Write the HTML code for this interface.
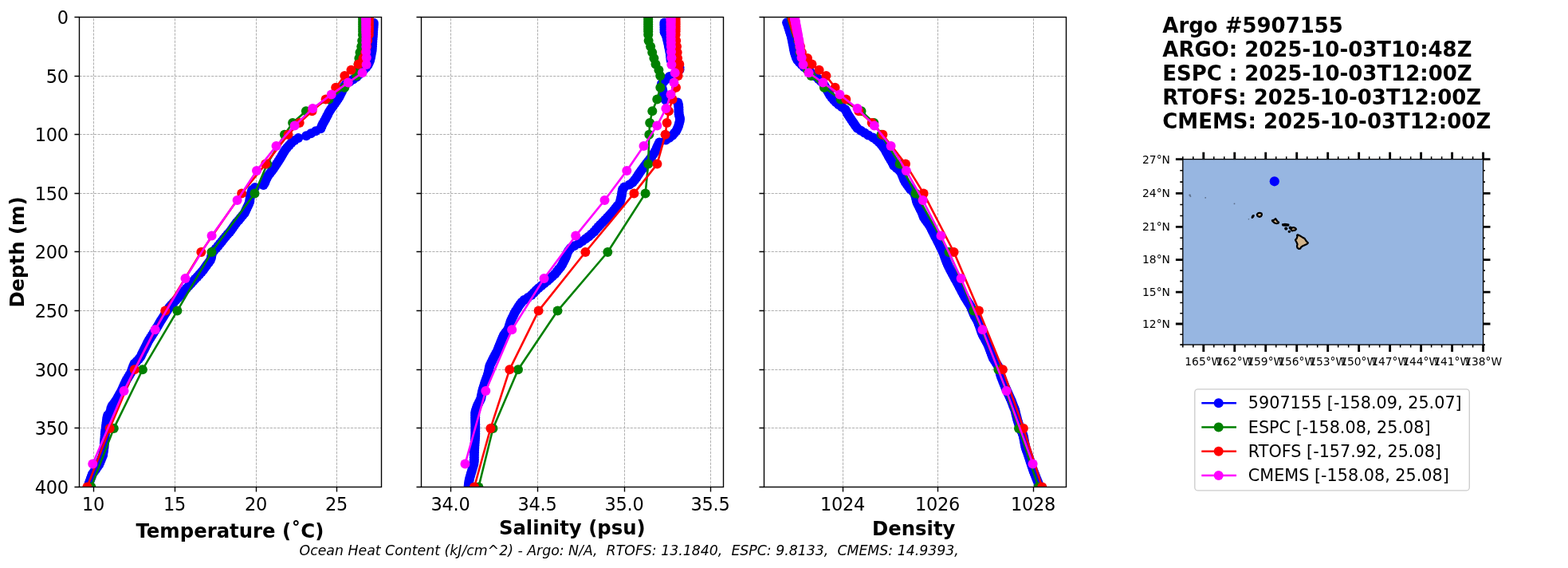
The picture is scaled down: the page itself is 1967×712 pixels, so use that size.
<!DOCTYPE html>
<html lang="en"><head><meta charset="utf-8"><title>Argo #5907155</title>
<style>html,body{margin:0;padding:0;background:#fff;}body{width:1967px;height:712px;overflow:hidden;}svg{display:block;}text{font-family:"DejaVu Sans","Liberation Sans",sans-serif;fill:#000;}.tk{font-size:22.48px;letter-spacing:-0.3px;}.lb{font-size:24.35px;font-weight:bold;}.tt{font-size:25.98px;font-weight:bold;}.mp{font-size:13.83px;}.lg{font-size:20.75px;}.ft{font-size:17.33px;font-style:italic;}.grid{stroke:#b0b0b0;stroke-width:1;stroke-dasharray:3.2 1.4;fill:none;}.sp{stroke:#000;stroke-width:1.38;fill:none;stroke-linecap:square;}.tick{stroke:#000;stroke-width:1.38;fill:none;}</style></head><body>
<svg width="1967" height="712" viewBox="0 0 1967 712">
<rect x="0" y="0" width="1967" height="712" fill="#fff"/>
<clipPath id="c0"><rect x="99.50" y="21.50" width="379.00" height="589.00"/></clipPath>
<path class="grid" d="M117.50 610.50V21.50M219.50 610.50V21.50M321.50 610.50V21.50M422.50 610.50V21.50M99.50 21.50H478.50M99.50 95.50H478.50M99.50 168.50H478.50M99.50 242.50H478.50M99.50 315.50H478.50M99.50 389.50H478.50M99.50 463.50H478.50M99.50 536.50H478.50M99.50 610.50H478.50"/>
<g clip-path="url(#c0)">
<polyline points="468.8,28.8 468.7,31.7 468.5,34.7 468.3,37.6 468.1,40.6 467.9,43.5 467.7,46.5 467.5,49.4 467.3,52.4 467.1,55.3 466.9,58.2 466.7,61.2 466.5,64.1 465.9,67.1 465.4,70.0 464.8,73.0 464.1,75.9 462.8,78.9 461.5,81.8 459.2,84.8 456.2,87.7 453.3,90.6 450.3,93.6 447.4,96.5 443.1,99.5 438.5,102.4 434.0,105.4 431.7,108.3 430.4,111.3 429.1,114.2 427.8,117.1 426.4,120.1 424.7,123.0 422.7,126.0 420.6,128.9 418.5,131.9 416.5,134.8 414.5,137.8 412.6,140.7 411.2,143.7 409.7,146.6 408.2,149.5 406.5,152.5 404.8,155.4 403.5,158.4 402.3,161.3 396.1,164.3 390.1,167.2 384.2,170.2 374.2,173.1 369.5,176.0 365.6,179.0 362.9,181.9 360.2,184.9 358.0,187.8 356.1,190.8 354.3,193.7 352.6,196.7 350.9,199.6 349.0,202.6 347.0,205.5 345.0,208.4 343.0,211.4 340.9,214.3 338.6,217.3 336.3,220.2 334.6,223.2 333.4,226.1 332.3,229.1 330.5,232.0 319.9,234.9 316.3,237.9 315.4,240.8 314.6,243.8 313.8,246.7 313.5,249.7 313.2,252.6 312.2,255.6 310.8,258.5 309.4,261.5 308.0,264.4 306.6,267.3 304.1,270.3 301.6,273.2 299.2,276.2 296.7,279.1 294.5,282.1 292.4,285.0 290.3,288.0 288.1,290.9 285.5,293.8 283.0,296.8 280.5,299.7 278.2,302.7 275.9,305.6 273.5,308.6 270.9,311.5 268.2,314.5 265.9,317.4 265.4,320.4 264.9,323.3 263.8,326.2 261.7,329.2 259.6,332.1 257.5,335.1 255.4,338.0 252.9,341.0 250.2,343.9 247.5,346.9 244.8,349.8 242.1,352.7 239.4,355.7 236.7,358.6 234.0,361.6 231.3,364.5 228.6,367.5 225.9,370.4 223.2,373.4 220.5,376.3 217.7,379.3 214.9,382.2 212.5,385.1 210.6,388.1 208.7,391.0 206.8,394.0 205.0,396.9 203.1,399.9 201.3,402.8 199.6,405.8 197.9,408.7 196.2,411.6 194.4,414.6 192.5,417.5 190.6,420.5 188.7,423.4 186.8,426.4 185.2,429.3 183.8,432.3 182.3,435.2 180.8,438.2 179.4,441.1 177.9,444.0 176.5,447.0 174.2,449.9 171.4,452.9 168.6,455.8 167.3,458.8 166.2,461.7 165.1,464.7 164.0,467.6 162.2,470.5 160.4,473.5 158.6,476.4 157.2,479.4 155.8,482.3 154.5,485.3 153.2,488.2 151.7,491.2 150.1,494.1 148.4,497.1 146.8,500.0 144.8,502.9 142.7,505.9 140.6,508.8 139.4,511.8 138.9,514.7 137.5,517.7 135.2,520.6 134.4,523.6 134.0,526.5 133.6,529.4 133.2,532.4 132.9,535.3 132.5,538.3 132.1,541.2 131.8,544.2 131.6,547.1 131.3,550.1 131.1,553.0 130.9,556.0 130.7,558.9 130.4,561.8 130.0,564.8 129.5,567.7 129.1,570.7 127.9,573.6 126.7,576.6 125.5,579.5 124.2,582.5 122.1,585.4 120.1,588.4 118.0,591.3 115.9,594.2 114.8,597.2 113.8,600.1 112.7,603.1 111.6,606.0 110.9,609.0" fill="none" stroke="#0000ff" stroke-width="2.60" stroke-linejoin="round" stroke-linecap="butt"/><g fill="#0000ff"><circle cx="468.8" cy="28.8" r="6.0"/><circle cx="468.7" cy="31.7" r="6.0"/><circle cx="468.5" cy="34.7" r="6.0"/><circle cx="468.3" cy="37.6" r="6.0"/><circle cx="468.1" cy="40.6" r="6.0"/><circle cx="467.9" cy="43.5" r="6.0"/><circle cx="467.7" cy="46.5" r="6.0"/><circle cx="467.5" cy="49.4" r="6.0"/><circle cx="467.3" cy="52.4" r="6.0"/><circle cx="467.1" cy="55.3" r="6.0"/><circle cx="466.9" cy="58.2" r="6.0"/><circle cx="466.7" cy="61.2" r="6.0"/><circle cx="466.5" cy="64.1" r="6.0"/><circle cx="465.9" cy="67.1" r="6.0"/><circle cx="465.4" cy="70.0" r="6.0"/><circle cx="464.8" cy="73.0" r="6.0"/><circle cx="464.1" cy="75.9" r="6.0"/><circle cx="462.8" cy="78.9" r="6.0"/><circle cx="461.5" cy="81.8" r="6.0"/><circle cx="459.2" cy="84.8" r="6.0"/><circle cx="456.2" cy="87.7" r="6.0"/><circle cx="453.3" cy="90.6" r="6.0"/><circle cx="450.3" cy="93.6" r="6.0"/><circle cx="447.4" cy="96.5" r="6.0"/><circle cx="443.1" cy="99.5" r="6.0"/><circle cx="438.5" cy="102.4" r="6.0"/><circle cx="434.0" cy="105.4" r="6.0"/><circle cx="431.7" cy="108.3" r="6.0"/><circle cx="430.4" cy="111.3" r="6.0"/><circle cx="429.1" cy="114.2" r="6.0"/><circle cx="427.8" cy="117.1" r="6.0"/><circle cx="426.4" cy="120.1" r="6.0"/><circle cx="424.7" cy="123.0" r="6.0"/><circle cx="422.7" cy="126.0" r="6.0"/><circle cx="420.6" cy="128.9" r="6.0"/><circle cx="418.5" cy="131.9" r="6.0"/><circle cx="416.5" cy="134.8" r="6.0"/><circle cx="414.5" cy="137.8" r="6.0"/><circle cx="412.6" cy="140.7" r="6.0"/><circle cx="411.2" cy="143.7" r="6.0"/><circle cx="409.7" cy="146.6" r="6.0"/><circle cx="408.2" cy="149.5" r="6.0"/><circle cx="406.5" cy="152.5" r="6.0"/><circle cx="404.8" cy="155.4" r="6.0"/><circle cx="403.5" cy="158.4" r="6.0"/><circle cx="402.3" cy="161.3" r="6.0"/><circle cx="396.1" cy="164.3" r="6.0"/><circle cx="390.1" cy="167.2" r="6.0"/><circle cx="384.2" cy="170.2" r="6.0"/><circle cx="374.2" cy="173.1" r="6.0"/><circle cx="369.5" cy="176.0" r="6.0"/><circle cx="365.6" cy="179.0" r="6.0"/><circle cx="362.9" cy="181.9" r="6.0"/><circle cx="360.2" cy="184.9" r="6.0"/><circle cx="358.0" cy="187.8" r="6.0"/><circle cx="356.1" cy="190.8" r="6.0"/><circle cx="354.3" cy="193.7" r="6.0"/><circle cx="352.6" cy="196.7" r="6.0"/><circle cx="350.9" cy="199.6" r="6.0"/><circle cx="349.0" cy="202.6" r="6.0"/><circle cx="347.0" cy="205.5" r="6.0"/><circle cx="345.0" cy="208.4" r="6.0"/><circle cx="343.0" cy="211.4" r="6.0"/><circle cx="340.9" cy="214.3" r="6.0"/><circle cx="338.6" cy="217.3" r="6.0"/><circle cx="336.3" cy="220.2" r="6.0"/><circle cx="334.6" cy="223.2" r="6.0"/><circle cx="333.4" cy="226.1" r="6.0"/><circle cx="332.3" cy="229.1" r="6.0"/><circle cx="330.5" cy="232.0" r="6.0"/><circle cx="319.9" cy="234.9" r="6.0"/><circle cx="316.3" cy="237.9" r="6.0"/><circle cx="315.4" cy="240.8" r="6.0"/><circle cx="314.6" cy="243.8" r="6.0"/><circle cx="313.8" cy="246.7" r="6.0"/><circle cx="313.5" cy="249.7" r="6.0"/><circle cx="313.2" cy="252.6" r="6.0"/><circle cx="312.2" cy="255.6" r="6.0"/><circle cx="310.8" cy="258.5" r="6.0"/><circle cx="309.4" cy="261.5" r="6.0"/><circle cx="308.0" cy="264.4" r="6.0"/><circle cx="306.6" cy="267.3" r="6.0"/><circle cx="304.1" cy="270.3" r="6.0"/><circle cx="301.6" cy="273.2" r="6.0"/><circle cx="299.2" cy="276.2" r="6.0"/><circle cx="296.7" cy="279.1" r="6.0"/><circle cx="294.5" cy="282.1" r="6.0"/><circle cx="292.4" cy="285.0" r="6.0"/><circle cx="290.3" cy="288.0" r="6.0"/><circle cx="288.1" cy="290.9" r="6.0"/><circle cx="285.5" cy="293.8" r="6.0"/><circle cx="283.0" cy="296.8" r="6.0"/><circle cx="280.5" cy="299.7" r="6.0"/><circle cx="278.2" cy="302.7" r="6.0"/><circle cx="275.9" cy="305.6" r="6.0"/><circle cx="273.5" cy="308.6" r="6.0"/><circle cx="270.9" cy="311.5" r="6.0"/><circle cx="268.2" cy="314.5" r="6.0"/><circle cx="265.9" cy="317.4" r="6.0"/><circle cx="265.4" cy="320.4" r="6.0"/><circle cx="264.9" cy="323.3" r="6.0"/><circle cx="263.8" cy="326.2" r="6.0"/><circle cx="261.7" cy="329.2" r="6.0"/><circle cx="259.6" cy="332.1" r="6.0"/><circle cx="257.5" cy="335.1" r="6.0"/><circle cx="255.4" cy="338.0" r="6.0"/><circle cx="252.9" cy="341.0" r="6.0"/><circle cx="250.2" cy="343.9" r="6.0"/><circle cx="247.5" cy="346.9" r="6.0"/><circle cx="244.8" cy="349.8" r="6.0"/><circle cx="242.1" cy="352.7" r="6.0"/><circle cx="239.4" cy="355.7" r="6.0"/><circle cx="236.7" cy="358.6" r="6.0"/><circle cx="234.0" cy="361.6" r="6.0"/><circle cx="231.3" cy="364.5" r="6.0"/><circle cx="228.6" cy="367.5" r="6.0"/><circle cx="225.9" cy="370.4" r="6.0"/><circle cx="223.2" cy="373.4" r="6.0"/><circle cx="220.5" cy="376.3" r="6.0"/><circle cx="217.7" cy="379.3" r="6.0"/><circle cx="214.9" cy="382.2" r="6.0"/><circle cx="212.5" cy="385.1" r="6.0"/><circle cx="210.6" cy="388.1" r="6.0"/><circle cx="208.7" cy="391.0" r="6.0"/><circle cx="206.8" cy="394.0" r="6.0"/><circle cx="205.0" cy="396.9" r="6.0"/><circle cx="203.1" cy="399.9" r="6.0"/><circle cx="201.3" cy="402.8" r="6.0"/><circle cx="199.6" cy="405.8" r="6.0"/><circle cx="197.9" cy="408.7" r="6.0"/><circle cx="196.2" cy="411.6" r="6.0"/><circle cx="194.4" cy="414.6" r="6.0"/><circle cx="192.5" cy="417.5" r="6.0"/><circle cx="190.6" cy="420.5" r="6.0"/><circle cx="188.7" cy="423.4" r="6.0"/><circle cx="186.8" cy="426.4" r="6.0"/><circle cx="185.2" cy="429.3" r="6.0"/><circle cx="183.8" cy="432.3" r="6.0"/><circle cx="182.3" cy="435.2" r="6.0"/><circle cx="180.8" cy="438.2" r="6.0"/><circle cx="179.4" cy="441.1" r="6.0"/><circle cx="177.9" cy="444.0" r="6.0"/><circle cx="176.5" cy="447.0" r="6.0"/><circle cx="174.2" cy="449.9" r="6.0"/><circle cx="171.4" cy="452.9" r="6.0"/><circle cx="168.6" cy="455.8" r="6.0"/><circle cx="167.3" cy="458.8" r="6.0"/><circle cx="166.2" cy="461.7" r="6.0"/><circle cx="165.1" cy="464.7" r="6.0"/><circle cx="164.0" cy="467.6" r="6.0"/><circle cx="162.2" cy="470.5" r="6.0"/><circle cx="160.4" cy="473.5" r="6.0"/><circle cx="158.6" cy="476.4" r="6.0"/><circle cx="157.2" cy="479.4" r="6.0"/><circle cx="155.8" cy="482.3" r="6.0"/><circle cx="154.5" cy="485.3" r="6.0"/><circle cx="153.2" cy="488.2" r="6.0"/><circle cx="151.7" cy="491.2" r="6.0"/><circle cx="150.1" cy="494.1" r="6.0"/><circle cx="148.4" cy="497.1" r="6.0"/><circle cx="146.8" cy="500.0" r="6.0"/><circle cx="144.8" cy="502.9" r="6.0"/><circle cx="142.7" cy="505.9" r="6.0"/><circle cx="140.6" cy="508.8" r="6.0"/><circle cx="139.4" cy="511.8" r="6.0"/><circle cx="138.9" cy="514.7" r="6.0"/><circle cx="137.5" cy="517.7" r="6.0"/><circle cx="135.2" cy="520.6" r="6.0"/><circle cx="134.4" cy="523.6" r="6.0"/><circle cx="134.0" cy="526.5" r="6.0"/><circle cx="133.6" cy="529.4" r="6.0"/><circle cx="133.2" cy="532.4" r="6.0"/><circle cx="132.9" cy="535.3" r="6.0"/><circle cx="132.5" cy="538.3" r="6.0"/><circle cx="132.1" cy="541.2" r="6.0"/><circle cx="131.8" cy="544.2" r="6.0"/><circle cx="131.6" cy="547.1" r="6.0"/><circle cx="131.3" cy="550.1" r="6.0"/><circle cx="131.1" cy="553.0" r="6.0"/><circle cx="130.9" cy="556.0" r="6.0"/><circle cx="130.7" cy="558.9" r="6.0"/><circle cx="130.4" cy="561.8" r="6.0"/><circle cx="130.0" cy="564.8" r="6.0"/><circle cx="129.5" cy="567.7" r="6.0"/><circle cx="129.1" cy="570.7" r="6.0"/><circle cx="127.9" cy="573.6" r="6.0"/><circle cx="126.7" cy="576.6" r="6.0"/><circle cx="125.5" cy="579.5" r="6.0"/><circle cx="124.2" cy="582.5" r="6.0"/><circle cx="122.1" cy="585.4" r="6.0"/><circle cx="120.1" cy="588.4" r="6.0"/><circle cx="118.0" cy="591.3" r="6.0"/><circle cx="115.9" cy="594.2" r="6.0"/><circle cx="114.8" cy="597.2" r="6.0"/><circle cx="113.8" cy="600.1" r="6.0"/><circle cx="112.7" cy="603.1" r="6.0"/><circle cx="111.6" cy="606.0" r="6.0"/><circle cx="110.9" cy="609.0" r="6.0"/></g>
<polyline points="455.2,21.5 455.2,24.4 455.2,27.4 455.2,30.3 455.2,33.3 455.2,36.2 455.2,39.2 455.0,43.6 454.2,51.0 453.3,58.3 451.5,65.7 450.4,73.0 449.6,80.4 448.6,87.8 447.3,95.1 432.3,109.8 412.5,124.6 383.9,139.3 367.1,154.0 356.9,168.8 335.2,205.6 319.5,242.4 265.5,316.0 222.4,389.6 178.9,463.2 142.8,536.9 114.4,610.5" fill="none" stroke="#008000" stroke-width="2.60" stroke-linejoin="round" stroke-linecap="butt"/><g fill="#008000"><circle cx="455.2" cy="21.5" r="6.0"/><circle cx="455.2" cy="24.4" r="6.0"/><circle cx="455.2" cy="27.4" r="6.0"/><circle cx="455.2" cy="30.3" r="6.0"/><circle cx="455.2" cy="33.3" r="6.0"/><circle cx="455.2" cy="36.2" r="6.0"/><circle cx="455.2" cy="39.2" r="6.0"/><circle cx="455.0" cy="43.6" r="6.0"/><circle cx="454.2" cy="51.0" r="6.0"/><circle cx="453.3" cy="58.3" r="6.0"/><circle cx="451.5" cy="65.7" r="6.0"/><circle cx="450.4" cy="73.0" r="6.0"/><circle cx="449.6" cy="80.4" r="6.0"/><circle cx="448.6" cy="87.8" r="6.0"/><circle cx="447.3" cy="95.1" r="6.0"/><circle cx="432.3" cy="109.8" r="6.0"/><circle cx="412.5" cy="124.6" r="6.0"/><circle cx="383.9" cy="139.3" r="6.0"/><circle cx="367.1" cy="154.0" r="6.0"/><circle cx="356.9" cy="168.8" r="6.0"/><circle cx="335.2" cy="205.6" r="6.0"/><circle cx="319.5" cy="242.4" r="6.0"/><circle cx="265.5" cy="316.0" r="6.0"/><circle cx="222.4" cy="389.6" r="6.0"/><circle cx="178.9" cy="463.2" r="6.0"/><circle cx="142.8" cy="536.9" r="6.0"/><circle cx="114.4" cy="610.5" r="6.0"/></g>
<polyline points="462.8,21.5 462.8,24.4 462.8,27.4 462.8,30.3 462.8,33.3 462.8,36.2 462.8,39.2 462.8,43.6 461.2,51.0 460.0,58.3 458.3,65.7 455.5,73.0 449.6,80.4 440.5,87.8 432.3,95.1 421.2,109.8 408.6,124.6 391.5,139.3 375.7,154.0 361.5,168.8 333.2,205.6 303.2,242.4 252.3,316.0 207.3,389.6 168.7,463.2 137.7,536.9 109.4,610.5" fill="none" stroke="#ff0000" stroke-width="2.60" stroke-linejoin="round" stroke-linecap="butt"/><g fill="#ff0000"><circle cx="462.8" cy="21.5" r="6.0"/><circle cx="462.8" cy="24.4" r="6.0"/><circle cx="462.8" cy="27.4" r="6.0"/><circle cx="462.8" cy="30.3" r="6.0"/><circle cx="462.8" cy="33.3" r="6.0"/><circle cx="462.8" cy="36.2" r="6.0"/><circle cx="462.8" cy="39.2" r="6.0"/><circle cx="462.8" cy="43.6" r="6.0"/><circle cx="461.2" cy="51.0" r="6.0"/><circle cx="460.0" cy="58.3" r="6.0"/><circle cx="458.3" cy="65.7" r="6.0"/><circle cx="455.5" cy="73.0" r="6.0"/><circle cx="449.6" cy="80.4" r="6.0"/><circle cx="440.5" cy="87.8" r="6.0"/><circle cx="432.3" cy="95.1" r="6.0"/><circle cx="421.2" cy="109.8" r="6.0"/><circle cx="408.6" cy="124.6" r="6.0"/><circle cx="391.5" cy="139.3" r="6.0"/><circle cx="375.7" cy="154.0" r="6.0"/><circle cx="361.5" cy="168.8" r="6.0"/><circle cx="333.2" cy="205.6" r="6.0"/><circle cx="303.2" cy="242.4" r="6.0"/><circle cx="252.3" cy="316.0" r="6.0"/><circle cx="207.3" cy="389.6" r="6.0"/><circle cx="168.7" cy="463.2" r="6.0"/><circle cx="137.7" cy="536.9" r="6.0"/><circle cx="109.4" cy="610.5" r="6.0"/></g>
<polyline points="459.2,22.2 459.3,23.8 459.2,25.4 459.4,27.1 459.3,29.0 459.2,31.0 459.4,33.2 459.3,35.6 459.2,38.3 459.3,41.3 459.4,44.8 459.3,48.7 459.2,53.3 459.3,58.6 459.3,64.9 459.8,72.2 459.6,80.9 454.5,91.3 436.7,103.6 415.7,118.4 392.2,136.1 369.6,157.4 346.5,183.1 322.0,213.9 297.6,251.0 265.6,295.6 232.5,349.1 194.6,413.2 155.5,489.9 116.3,581.4" fill="none" stroke="#ff00ff" stroke-width="2.60" stroke-linejoin="round" stroke-linecap="butt"/><g fill="#ff00ff"><circle cx="459.2" cy="22.2" r="6.0"/><circle cx="459.3" cy="23.8" r="6.0"/><circle cx="459.2" cy="25.4" r="6.0"/><circle cx="459.4" cy="27.1" r="6.0"/><circle cx="459.3" cy="29.0" r="6.0"/><circle cx="459.2" cy="31.0" r="6.0"/><circle cx="459.4" cy="33.2" r="6.0"/><circle cx="459.3" cy="35.6" r="6.0"/><circle cx="459.2" cy="38.3" r="6.0"/><circle cx="459.3" cy="41.3" r="6.0"/><circle cx="459.4" cy="44.8" r="6.0"/><circle cx="459.3" cy="48.7" r="6.0"/><circle cx="459.2" cy="53.3" r="6.0"/><circle cx="459.3" cy="58.6" r="6.0"/><circle cx="459.3" cy="64.9" r="6.0"/><circle cx="459.8" cy="72.2" r="6.0"/><circle cx="459.6" cy="80.9" r="6.0"/><circle cx="454.5" cy="91.3" r="6.0"/><circle cx="436.7" cy="103.6" r="6.0"/><circle cx="415.7" cy="118.4" r="6.0"/><circle cx="392.2" cy="136.1" r="6.0"/><circle cx="369.6" cy="157.4" r="6.0"/><circle cx="346.5" cy="183.1" r="6.0"/><circle cx="322.0" cy="213.9" r="6.0"/><circle cx="297.6" cy="251.0" r="6.0"/><circle cx="265.6" cy="295.6" r="6.0"/><circle cx="232.5" cy="349.1" r="6.0"/><circle cx="194.6" cy="413.2" r="6.0"/><circle cx="155.5" cy="489.9" r="6.0"/><circle cx="116.3" cy="581.4" r="6.0"/></g>
</g>
<path class="tick" d="M117.50 610.50v6.05M219.50 610.50v6.05M321.50 610.50v6.05M422.50 610.50v6.05M99.50 21.50h-6.05M99.50 95.50h-6.05M99.50 168.50h-6.05M99.50 242.50h-6.05M99.50 315.50h-6.05M99.50 389.50h-6.05M99.50 463.50h-6.05M99.50 536.50h-6.05M99.50 610.50h-6.05"/>
<rect class="sp" x="99.50" y="21.50" width="379.00" height="589.00"/>
<text class="tk" x="117.00" y="639.8" text-anchor="middle">10</text>
<text class="tk" x="219.00" y="639.8" text-anchor="middle">15</text>
<text class="tk" x="321.00" y="639.8" text-anchor="middle">20</text>
<text class="tk" x="422.00" y="639.8" text-anchor="middle">25</text>
<text class="tk" x="85.85" y="30.40" text-anchor="end">0</text>
<text class="tk" x="85.85" y="104.40" text-anchor="end">50</text>
<text class="tk" x="85.85" y="177.40" text-anchor="end">100</text>
<text class="tk" x="85.85" y="251.40" text-anchor="end">150</text>
<text class="tk" x="85.85" y="324.40" text-anchor="end">200</text>
<text class="tk" x="85.85" y="398.40" text-anchor="end">250</text>
<text class="tk" x="85.85" y="472.40" text-anchor="end">300</text>
<text class="tk" x="85.85" y="545.40" text-anchor="end">350</text>
<text class="tk" x="85.85" y="619.40" text-anchor="end">400</text>
<text class="lb" x="288.40" y="673.70" text-anchor="middle">Temperature (˚C)</text>
<clipPath id="c1"><rect x="528.50" y="21.50" width="379.00" height="589.00"/></clipPath>
<path class="grid" d="M565.50 610.50V21.50M674.50 610.50V21.50M783.50 610.50V21.50M891.50 610.50V21.50M528.50 21.50H907.50M528.50 95.50H907.50M528.50 168.50H907.50M528.50 242.50H907.50M528.50 315.50H907.50M528.50 389.50H907.50M528.50 463.50H907.50M528.50 536.50H907.50M528.50 610.50H907.50"/>
<g clip-path="url(#c1)">
<polyline points="833.4,28.4 833.4,31.3 833.5,34.3 833.5,37.2 833.6,40.2 835.0,43.1 836.2,46.1 836.9,49.0 837.6,52.0 838.3,54.9 838.9,57.9 839.5,60.8 840.1,63.7 840.7,66.7 841.0,69.6 841.3,72.6 841.6,75.5 844.5,78.5 848.6,81.4 852.5,84.4 852.5,87.3 850.5,90.2 845.6,93.2 839.8,96.1 836.3,99.1 833.0,102.0 830.0,105.0 830.1,107.9 830.7,110.9 831.4,113.8 832.0,116.7 832.3,119.7 832.5,122.6 835.0,125.6 850.3,128.5 851.1,131.5 851.4,134.4 851.5,137.4 851.5,140.3 851.8,143.3 852.5,146.2 853.1,149.1 852.7,152.1 851.9,155.0 851.1,158.0 849.8,160.9 848.4,163.9 846.1,166.8 843.6,169.8 839.7,172.7 835.3,175.6 827.2,178.6 825.7,181.5 824.3,184.5 823.1,187.4 821.4,190.4 819.5,193.3 817.5,196.3 815.4,199.2 813.1,202.2 810.9,205.1 808.6,208.0 806.4,211.0 804.2,213.9 802.1,216.9 800.3,219.8 798.4,222.8 796.1,225.7 793.6,228.7 789.6,231.6 783.2,234.5 781.0,237.5 780.4,240.4 780.0,243.4 779.5,246.3 778.8,249.3 778.1,252.2 777.0,255.2 774.5,258.1 772.1,261.1 769.7,264.0 767.1,266.9 764.4,269.9 761.8,272.8 758.9,275.8 756.0,278.7 753.0,281.7 750.4,284.6 747.8,287.6 745.3,290.5 741.9,293.4 738.5,296.4 734.7,299.3 730.5,302.3 726.1,305.2 720.3,308.2 715.7,311.1 713.4,314.1 711.6,317.0 710.8,320.0 709.6,322.9 708.2,325.8 706.7,328.8 705.2,331.7 703.3,334.7 700.9,337.6 698.6,340.6 696.2,343.5 692.9,346.5 689.6,349.4 686.4,352.3 682.7,355.3 679.1,358.2 675.5,361.2 672.5,364.1 669.6,367.1 666.6,370.0 662.3,373.0 657.4,375.9 654.3,378.9 652.2,381.8 650.2,384.7 648.4,387.7 646.6,390.6 645.0,393.6 643.6,396.5 642.1,399.5 640.7,402.4 639.8,405.4 638.9,408.3 638.0,411.2 636.3,414.2 634.1,417.1 632.0,420.1 630.6,423.0 629.4,426.0 628.2,428.9 627.0,431.9 625.8,434.8 624.7,437.8 623.5,440.7 621.9,443.6 620.3,446.6 618.7,449.5 617.3,452.5 615.8,455.4 614.4,458.4 613.8,461.3 613.2,464.3 612.6,467.2 611.8,470.1 610.7,473.1 609.6,476.0 608.5,479.0 607.6,481.9 606.7,484.9 605.8,487.8 605.0,490.8 604.4,493.7 603.8,496.7 603.3,499.6 601.9,502.5 600.4,505.5 598.9,508.4 597.9,511.4 596.9,514.3 596.2,517.3 596.2,520.2 596.2,523.2 596.2,526.1 596.2,529.0 596.3,532.0 596.3,534.9 596.3,537.9 596.3,540.8 596.3,543.8 596.2,546.7 596.0,549.7 595.8,552.6 595.6,555.6 595.4,558.5 595.2,561.4 595.0,564.4 594.9,567.3 594.8,570.3 594.8,573.2 594.8,576.2 594.7,579.1 594.3,582.1 593.4,585.0 592.5,588.0 591.7,590.9 590.8,593.8 590.0,596.8 589.1,599.7 588.5,602.7 588.1,605.6 587.7,608.6" fill="none" stroke="#0000ff" stroke-width="2.60" stroke-linejoin="round" stroke-linecap="butt"/><g fill="#0000ff"><circle cx="833.4" cy="28.4" r="6.0"/><circle cx="833.4" cy="31.3" r="6.0"/><circle cx="833.5" cy="34.3" r="6.0"/><circle cx="833.5" cy="37.2" r="6.0"/><circle cx="833.6" cy="40.2" r="6.0"/><circle cx="835.0" cy="43.1" r="6.0"/><circle cx="836.2" cy="46.1" r="6.0"/><circle cx="836.9" cy="49.0" r="6.0"/><circle cx="837.6" cy="52.0" r="6.0"/><circle cx="838.3" cy="54.9" r="6.0"/><circle cx="838.9" cy="57.9" r="6.0"/><circle cx="839.5" cy="60.8" r="6.0"/><circle cx="840.1" cy="63.7" r="6.0"/><circle cx="840.7" cy="66.7" r="6.0"/><circle cx="841.0" cy="69.6" r="6.0"/><circle cx="841.3" cy="72.6" r="6.0"/><circle cx="841.6" cy="75.5" r="6.0"/><circle cx="844.5" cy="78.5" r="6.0"/><circle cx="848.6" cy="81.4" r="6.0"/><circle cx="852.5" cy="84.4" r="6.0"/><circle cx="852.5" cy="87.3" r="6.0"/><circle cx="850.5" cy="90.2" r="6.0"/><circle cx="845.6" cy="93.2" r="6.0"/><circle cx="839.8" cy="96.1" r="6.0"/><circle cx="836.3" cy="99.1" r="6.0"/><circle cx="833.0" cy="102.0" r="6.0"/><circle cx="830.0" cy="105.0" r="6.0"/><circle cx="830.1" cy="107.9" r="6.0"/><circle cx="830.7" cy="110.9" r="6.0"/><circle cx="831.4" cy="113.8" r="6.0"/><circle cx="832.0" cy="116.7" r="6.0"/><circle cx="832.3" cy="119.7" r="6.0"/><circle cx="832.5" cy="122.6" r="6.0"/><circle cx="835.0" cy="125.6" r="6.0"/><circle cx="850.3" cy="128.5" r="6.0"/><circle cx="851.1" cy="131.5" r="6.0"/><circle cx="851.4" cy="134.4" r="6.0"/><circle cx="851.5" cy="137.4" r="6.0"/><circle cx="851.5" cy="140.3" r="6.0"/><circle cx="851.8" cy="143.3" r="6.0"/><circle cx="852.5" cy="146.2" r="6.0"/><circle cx="853.1" cy="149.1" r="6.0"/><circle cx="852.7" cy="152.1" r="6.0"/><circle cx="851.9" cy="155.0" r="6.0"/><circle cx="851.1" cy="158.0" r="6.0"/><circle cx="849.8" cy="160.9" r="6.0"/><circle cx="848.4" cy="163.9" r="6.0"/><circle cx="846.1" cy="166.8" r="6.0"/><circle cx="843.6" cy="169.8" r="6.0"/><circle cx="839.7" cy="172.7" r="6.0"/><circle cx="835.3" cy="175.6" r="6.0"/><circle cx="827.2" cy="178.6" r="6.0"/><circle cx="825.7" cy="181.5" r="6.0"/><circle cx="824.3" cy="184.5" r="6.0"/><circle cx="823.1" cy="187.4" r="6.0"/><circle cx="821.4" cy="190.4" r="6.0"/><circle cx="819.5" cy="193.3" r="6.0"/><circle cx="817.5" cy="196.3" r="6.0"/><circle cx="815.4" cy="199.2" r="6.0"/><circle cx="813.1" cy="202.2" r="6.0"/><circle cx="810.9" cy="205.1" r="6.0"/><circle cx="808.6" cy="208.0" r="6.0"/><circle cx="806.4" cy="211.0" r="6.0"/><circle cx="804.2" cy="213.9" r="6.0"/><circle cx="802.1" cy="216.9" r="6.0"/><circle cx="800.3" cy="219.8" r="6.0"/><circle cx="798.4" cy="222.8" r="6.0"/><circle cx="796.1" cy="225.7" r="6.0"/><circle cx="793.6" cy="228.7" r="6.0"/><circle cx="789.6" cy="231.6" r="6.0"/><circle cx="783.2" cy="234.5" r="6.0"/><circle cx="781.0" cy="237.5" r="6.0"/><circle cx="780.4" cy="240.4" r="6.0"/><circle cx="780.0" cy="243.4" r="6.0"/><circle cx="779.5" cy="246.3" r="6.0"/><circle cx="778.8" cy="249.3" r="6.0"/><circle cx="778.1" cy="252.2" r="6.0"/><circle cx="777.0" cy="255.2" r="6.0"/><circle cx="774.5" cy="258.1" r="6.0"/><circle cx="772.1" cy="261.1" r="6.0"/><circle cx="769.7" cy="264.0" r="6.0"/><circle cx="767.1" cy="266.9" r="6.0"/><circle cx="764.4" cy="269.9" r="6.0"/><circle cx="761.8" cy="272.8" r="6.0"/><circle cx="758.9" cy="275.8" r="6.0"/><circle cx="756.0" cy="278.7" r="6.0"/><circle cx="753.0" cy="281.7" r="6.0"/><circle cx="750.4" cy="284.6" r="6.0"/><circle cx="747.8" cy="287.6" r="6.0"/><circle cx="745.3" cy="290.5" r="6.0"/><circle cx="741.9" cy="293.4" r="6.0"/><circle cx="738.5" cy="296.4" r="6.0"/><circle cx="734.7" cy="299.3" r="6.0"/><circle cx="730.5" cy="302.3" r="6.0"/><circle cx="726.1" cy="305.2" r="6.0"/><circle cx="720.3" cy="308.2" r="6.0"/><circle cx="715.7" cy="311.1" r="6.0"/><circle cx="713.4" cy="314.1" r="6.0"/><circle cx="711.6" cy="317.0" r="6.0"/><circle cx="710.8" cy="320.0" r="6.0"/><circle cx="709.6" cy="322.9" r="6.0"/><circle cx="708.2" cy="325.8" r="6.0"/><circle cx="706.7" cy="328.8" r="6.0"/><circle cx="705.2" cy="331.7" r="6.0"/><circle cx="703.3" cy="334.7" r="6.0"/><circle cx="700.9" cy="337.6" r="6.0"/><circle cx="698.6" cy="340.6" r="6.0"/><circle cx="696.2" cy="343.5" r="6.0"/><circle cx="692.9" cy="346.5" r="6.0"/><circle cx="689.6" cy="349.4" r="6.0"/><circle cx="686.4" cy="352.3" r="6.0"/><circle cx="682.7" cy="355.3" r="6.0"/><circle cx="679.1" cy="358.2" r="6.0"/><circle cx="675.5" cy="361.2" r="6.0"/><circle cx="672.5" cy="364.1" r="6.0"/><circle cx="669.6" cy="367.1" r="6.0"/><circle cx="666.6" cy="370.0" r="6.0"/><circle cx="662.3" cy="373.0" r="6.0"/><circle cx="657.4" cy="375.9" r="6.0"/><circle cx="654.3" cy="378.9" r="6.0"/><circle cx="652.2" cy="381.8" r="6.0"/><circle cx="650.2" cy="384.7" r="6.0"/><circle cx="648.4" cy="387.7" r="6.0"/><circle cx="646.6" cy="390.6" r="6.0"/><circle cx="645.0" cy="393.6" r="6.0"/><circle cx="643.6" cy="396.5" r="6.0"/><circle cx="642.1" cy="399.5" r="6.0"/><circle cx="640.7" cy="402.4" r="6.0"/><circle cx="639.8" cy="405.4" r="6.0"/><circle cx="638.9" cy="408.3" r="6.0"/><circle cx="638.0" cy="411.2" r="6.0"/><circle cx="636.3" cy="414.2" r="6.0"/><circle cx="634.1" cy="417.1" r="6.0"/><circle cx="632.0" cy="420.1" r="6.0"/><circle cx="630.6" cy="423.0" r="6.0"/><circle cx="629.4" cy="426.0" r="6.0"/><circle cx="628.2" cy="428.9" r="6.0"/><circle cx="627.0" cy="431.9" r="6.0"/><circle cx="625.8" cy="434.8" r="6.0"/><circle cx="624.7" cy="437.8" r="6.0"/><circle cx="623.5" cy="440.7" r="6.0"/><circle cx="621.9" cy="443.6" r="6.0"/><circle cx="620.3" cy="446.6" r="6.0"/><circle cx="618.7" cy="449.5" r="6.0"/><circle cx="617.3" cy="452.5" r="6.0"/><circle cx="615.8" cy="455.4" r="6.0"/><circle cx="614.4" cy="458.4" r="6.0"/><circle cx="613.8" cy="461.3" r="6.0"/><circle cx="613.2" cy="464.3" r="6.0"/><circle cx="612.6" cy="467.2" r="6.0"/><circle cx="611.8" cy="470.1" r="6.0"/><circle cx="610.7" cy="473.1" r="6.0"/><circle cx="609.6" cy="476.0" r="6.0"/><circle cx="608.5" cy="479.0" r="6.0"/><circle cx="607.6" cy="481.9" r="6.0"/><circle cx="606.7" cy="484.9" r="6.0"/><circle cx="605.8" cy="487.8" r="6.0"/><circle cx="605.0" cy="490.8" r="6.0"/><circle cx="604.4" cy="493.7" r="6.0"/><circle cx="603.8" cy="496.7" r="6.0"/><circle cx="603.3" cy="499.6" r="6.0"/><circle cx="601.9" cy="502.5" r="6.0"/><circle cx="600.4" cy="505.5" r="6.0"/><circle cx="598.9" cy="508.4" r="6.0"/><circle cx="597.9" cy="511.4" r="6.0"/><circle cx="596.9" cy="514.3" r="6.0"/><circle cx="596.2" cy="517.3" r="6.0"/><circle cx="596.2" cy="520.2" r="6.0"/><circle cx="596.2" cy="523.2" r="6.0"/><circle cx="596.2" cy="526.1" r="6.0"/><circle cx="596.2" cy="529.0" r="6.0"/><circle cx="596.3" cy="532.0" r="6.0"/><circle cx="596.3" cy="534.9" r="6.0"/><circle cx="596.3" cy="537.9" r="6.0"/><circle cx="596.3" cy="540.8" r="6.0"/><circle cx="596.3" cy="543.8" r="6.0"/><circle cx="596.2" cy="546.7" r="6.0"/><circle cx="596.0" cy="549.7" r="6.0"/><circle cx="595.8" cy="552.6" r="6.0"/><circle cx="595.6" cy="555.6" r="6.0"/><circle cx="595.4" cy="558.5" r="6.0"/><circle cx="595.2" cy="561.4" r="6.0"/><circle cx="595.0" cy="564.4" r="6.0"/><circle cx="594.9" cy="567.3" r="6.0"/><circle cx="594.8" cy="570.3" r="6.0"/><circle cx="594.8" cy="573.2" r="6.0"/><circle cx="594.8" cy="576.2" r="6.0"/><circle cx="594.7" cy="579.1" r="6.0"/><circle cx="594.3" cy="582.1" r="6.0"/><circle cx="593.4" cy="585.0" r="6.0"/><circle cx="592.5" cy="588.0" r="6.0"/><circle cx="591.7" cy="590.9" r="6.0"/><circle cx="590.8" cy="593.8" r="6.0"/><circle cx="590.0" cy="596.8" r="6.0"/><circle cx="589.1" cy="599.7" r="6.0"/><circle cx="588.5" cy="602.7" r="6.0"/><circle cx="588.1" cy="605.6" r="6.0"/><circle cx="587.7" cy="608.6" r="6.0"/></g>
<polyline points="813.2,21.5 813.2,24.4 813.2,27.4 813.2,30.3 813.2,33.3 813.2,36.2 813.2,39.2 813.2,43.6 813.6,51.0 816.1,58.3 818.2,65.7 820.4,73.0 822.5,80.4 826.4,87.8 828.2,95.1 828.3,109.8 824.3,124.6 818.3,139.3 815.2,154.0 814.3,168.8 813.2,205.6 809.6,242.4 762.3,316.0 699.5,389.6 650.0,463.2 618.5,536.9 600.4,610.5" fill="none" stroke="#008000" stroke-width="2.60" stroke-linejoin="round" stroke-linecap="butt"/><g fill="#008000"><circle cx="813.2" cy="21.5" r="6.0"/><circle cx="813.2" cy="24.4" r="6.0"/><circle cx="813.2" cy="27.4" r="6.0"/><circle cx="813.2" cy="30.3" r="6.0"/><circle cx="813.2" cy="33.3" r="6.0"/><circle cx="813.2" cy="36.2" r="6.0"/><circle cx="813.2" cy="39.2" r="6.0"/><circle cx="813.2" cy="43.6" r="6.0"/><circle cx="813.6" cy="51.0" r="6.0"/><circle cx="816.1" cy="58.3" r="6.0"/><circle cx="818.2" cy="65.7" r="6.0"/><circle cx="820.4" cy="73.0" r="6.0"/><circle cx="822.5" cy="80.4" r="6.0"/><circle cx="826.4" cy="87.8" r="6.0"/><circle cx="828.2" cy="95.1" r="6.0"/><circle cx="828.3" cy="109.8" r="6.0"/><circle cx="824.3" cy="124.6" r="6.0"/><circle cx="818.3" cy="139.3" r="6.0"/><circle cx="815.2" cy="154.0" r="6.0"/><circle cx="814.3" cy="168.8" r="6.0"/><circle cx="813.2" cy="205.6" r="6.0"/><circle cx="809.6" cy="242.4" r="6.0"/><circle cx="762.3" cy="316.0" r="6.0"/><circle cx="699.5" cy="389.6" r="6.0"/><circle cx="650.0" cy="463.2" r="6.0"/><circle cx="618.5" cy="536.9" r="6.0"/><circle cx="600.4" cy="610.5" r="6.0"/></g>
<polyline points="847.6,21.5 847.6,24.4 847.6,27.4 847.6,30.3 847.6,33.3 847.6,36.2 847.6,39.2 847.6,43.6 848.2,51.0 849.0,58.3 849.7,65.7 850.1,73.0 852.3,80.4 851.9,87.8 850.6,95.1 848.0,109.8 843.6,124.6 838.9,139.3 836.6,154.0 834.6,168.8 824.4,205.6 795.4,242.4 734.4,316.0 675.6,389.6 639.3,463.2 615.4,536.9 595.0,610.5" fill="none" stroke="#ff0000" stroke-width="2.60" stroke-linejoin="round" stroke-linecap="butt"/><g fill="#ff0000"><circle cx="847.6" cy="21.5" r="6.0"/><circle cx="847.6" cy="24.4" r="6.0"/><circle cx="847.6" cy="27.4" r="6.0"/><circle cx="847.6" cy="30.3" r="6.0"/><circle cx="847.6" cy="33.3" r="6.0"/><circle cx="847.6" cy="36.2" r="6.0"/><circle cx="847.6" cy="39.2" r="6.0"/><circle cx="847.6" cy="43.6" r="6.0"/><circle cx="848.2" cy="51.0" r="6.0"/><circle cx="849.0" cy="58.3" r="6.0"/><circle cx="849.7" cy="65.7" r="6.0"/><circle cx="850.1" cy="73.0" r="6.0"/><circle cx="852.3" cy="80.4" r="6.0"/><circle cx="851.9" cy="87.8" r="6.0"/><circle cx="850.6" cy="95.1" r="6.0"/><circle cx="848.0" cy="109.8" r="6.0"/><circle cx="843.6" cy="124.6" r="6.0"/><circle cx="838.9" cy="139.3" r="6.0"/><circle cx="836.6" cy="154.0" r="6.0"/><circle cx="834.6" cy="168.8" r="6.0"/><circle cx="824.4" cy="205.6" r="6.0"/><circle cx="795.4" cy="242.4" r="6.0"/><circle cx="734.4" cy="316.0" r="6.0"/><circle cx="675.6" cy="389.6" r="6.0"/><circle cx="639.3" cy="463.2" r="6.0"/><circle cx="615.4" cy="536.9" r="6.0"/><circle cx="595.0" cy="610.5" r="6.0"/></g>
<polyline points="841.5,22.2 841.6,23.8 841.5,25.4 841.7,27.1 841.6,29.0 841.5,31.0 841.7,33.2 841.6,35.6 841.5,38.3 841.7,41.3 841.6,44.8 841.7,48.7 841.8,53.3 841.9,58.6 842.0,64.9 842.4,72.2 842.4,80.9 846.7,91.3 845.4,103.6 841.5,118.4 835.4,136.1 824.3,157.4 807.5,183.1 786.3,213.9 758.5,251.0 722.2,295.6 682.5,349.1 642.2,413.2 609.3,489.9 583.5,581.4" fill="none" stroke="#ff00ff" stroke-width="2.60" stroke-linejoin="round" stroke-linecap="butt"/><g fill="#ff00ff"><circle cx="841.5" cy="22.2" r="6.0"/><circle cx="841.6" cy="23.8" r="6.0"/><circle cx="841.5" cy="25.4" r="6.0"/><circle cx="841.7" cy="27.1" r="6.0"/><circle cx="841.6" cy="29.0" r="6.0"/><circle cx="841.5" cy="31.0" r="6.0"/><circle cx="841.7" cy="33.2" r="6.0"/><circle cx="841.6" cy="35.6" r="6.0"/><circle cx="841.5" cy="38.3" r="6.0"/><circle cx="841.7" cy="41.3" r="6.0"/><circle cx="841.6" cy="44.8" r="6.0"/><circle cx="841.7" cy="48.7" r="6.0"/><circle cx="841.8" cy="53.3" r="6.0"/><circle cx="841.9" cy="58.6" r="6.0"/><circle cx="842.0" cy="64.9" r="6.0"/><circle cx="842.4" cy="72.2" r="6.0"/><circle cx="842.4" cy="80.9" r="6.0"/><circle cx="846.7" cy="91.3" r="6.0"/><circle cx="845.4" cy="103.6" r="6.0"/><circle cx="841.5" cy="118.4" r="6.0"/><circle cx="835.4" cy="136.1" r="6.0"/><circle cx="824.3" cy="157.4" r="6.0"/><circle cx="807.5" cy="183.1" r="6.0"/><circle cx="786.3" cy="213.9" r="6.0"/><circle cx="758.5" cy="251.0" r="6.0"/><circle cx="722.2" cy="295.6" r="6.0"/><circle cx="682.5" cy="349.1" r="6.0"/><circle cx="642.2" cy="413.2" r="6.0"/><circle cx="609.3" cy="489.9" r="6.0"/><circle cx="583.5" cy="581.4" r="6.0"/></g>
</g>
<path class="tick" d="M565.50 610.50v6.05M674.50 610.50v6.05M783.50 610.50v6.05M891.50 610.50v6.05M528.50 21.50h-6.05M528.50 95.50h-6.05M528.50 168.50h-6.05M528.50 242.50h-6.05M528.50 315.50h-6.05M528.50 389.50h-6.05M528.50 463.50h-6.05M528.50 536.50h-6.05M528.50 610.50h-6.05"/>
<rect class="sp" x="528.50" y="21.50" width="379.00" height="589.00"/>
<text class="tk" x="565.00" y="639.8" text-anchor="middle">34.0</text>
<text class="tk" x="674.00" y="639.8" text-anchor="middle">34.5</text>
<text class="tk" x="783.00" y="639.8" text-anchor="middle">35.0</text>
<text class="tk" x="891.00" y="639.8" text-anchor="middle">35.5</text>
<text class="lb" x="717.80" y="670.40" text-anchor="middle">Salinity (psu)</text>
<clipPath id="c2"><rect x="958.50" y="21.50" width="379.00" height="589.00"/></clipPath>
<path class="grid" d="M1057.50 610.50V21.50M1176.50 610.50V21.50M1296.50 610.50V21.50M958.50 21.50H1337.50M958.50 95.50H1337.50M958.50 168.50H1337.50M958.50 242.50H1337.50M958.50 315.50H1337.50M958.50 389.50H1337.50M958.50 463.50H1337.50M958.50 536.50H1337.50M958.50 610.50H1337.50"/>
<g clip-path="url(#c2)">
<polyline points="987.1,28.2 988.1,31.1 989.0,34.1 990.0,37.0 990.9,40.0 991.9,42.9 992.8,45.9 993.4,48.8 994.0,51.8 994.6,54.7 995.2,57.6 995.7,60.6 996.3,63.5 997.0,66.5 998.0,69.4 999.0,72.4 1000.4,75.3 1003.0,78.3 1005.9,81.2 1008.9,84.2 1012.6,87.1 1016.2,90.0 1019.8,93.0 1023.5,95.9 1026.7,98.9 1029.7,101.8 1032.7,104.8 1034.5,107.7 1036.2,110.7 1037.9,113.6 1039.6,116.5 1041.3,119.5 1043.5,122.4 1046.1,125.4 1048.8,128.3 1052.2,131.3 1056.3,134.2 1060.4,137.2 1061.8,140.1 1063.4,143.1 1065.3,146.0 1067.3,148.9 1069.3,151.9 1071.2,154.8 1073.2,157.8 1075.5,160.7 1079.9,163.7 1084.5,166.6 1089.2,169.6 1095.1,172.5 1099.5,175.4 1102.9,178.4 1105.6,181.3 1107.9,184.3 1110.1,187.2 1111.7,190.2 1113.2,193.1 1114.7,196.1 1116.5,199.0 1118.3,202.0 1120.0,204.9 1121.3,207.8 1124.7,210.8 1128.3,213.7 1130.6,216.7 1131.8,219.6 1133.0,222.6 1134.2,225.5 1135.8,228.5 1137.9,231.4 1140.0,234.3 1142.1,237.3 1145.5,240.2 1147.6,243.2 1148.4,246.1 1149.1,249.1 1149.8,252.0 1150.9,255.0 1152.4,257.9 1153.8,260.9 1155.3,263.8 1156.7,266.7 1157.8,269.7 1158.9,272.6 1160.9,275.6 1163.1,278.5 1165.3,281.5 1167.2,284.4 1168.7,287.4 1170.1,290.3 1171.6,293.2 1173.1,296.2 1174.5,299.1 1176.0,302.1 1177.5,305.0 1179.0,308.0 1180.4,310.9 1181.9,313.9 1183.3,316.8 1184.3,319.8 1185.4,322.7 1186.4,325.6 1187.5,328.6 1188.8,331.5 1190.2,334.5 1191.7,337.4 1193.3,340.4 1194.8,343.3 1196.4,346.3 1198.0,349.2 1199.5,352.1 1201.1,355.1 1202.7,358.0 1204.2,361.0 1205.8,363.9 1207.4,366.9 1208.9,369.8 1210.5,372.8 1212.4,375.7 1214.2,378.7 1216.1,381.6 1217.8,384.5 1219.0,387.5 1220.3,390.4 1221.5,393.4 1222.8,396.3 1224.6,399.3 1226.3,402.2 1227.5,405.2 1228.5,408.1 1229.5,411.0 1230.5,414.0 1231.5,416.9 1232.8,419.9 1234.4,422.8 1236.0,425.8 1237.6,428.7 1239.2,431.7 1240.4,434.6 1241.5,437.6 1242.6,440.5 1243.7,443.4 1244.8,446.4 1246.0,449.3 1247.9,452.3 1249.8,455.2 1251.7,458.2 1253.1,461.1 1253.8,464.1 1254.4,467.0 1255.1,469.9 1256.1,472.9 1257.3,475.8 1258.4,478.8 1259.6,481.7 1260.8,484.7 1262.1,487.6 1263.4,490.6 1264.8,493.5 1266.2,496.5 1267.5,499.4 1268.8,502.3 1269.9,505.3 1271.0,508.2 1272.2,511.2 1273.3,514.1 1274.0,517.1 1274.7,520.0 1275.5,523.0 1276.2,525.9 1277.1,528.8 1278.0,531.8 1278.9,534.7 1280.0,537.7 1281.4,540.6 1282.7,543.6 1283.7,546.5 1284.3,549.5 1284.9,552.4 1285.4,555.4 1286.0,558.3 1286.7,561.2 1287.7,564.2 1288.7,567.1 1289.7,570.1 1290.7,573.0 1291.7,576.0 1292.6,578.9 1293.6,581.9 1294.6,584.8 1295.6,587.8 1296.6,590.7 1297.7,593.6 1298.9,596.6 1300.1,599.5 1301.3,602.5 1302.5,605.4 1303.4,608.4" fill="none" stroke="#0000ff" stroke-width="2.60" stroke-linejoin="round" stroke-linecap="butt"/><g fill="#0000ff"><circle cx="987.1" cy="28.2" r="6.0"/><circle cx="988.1" cy="31.1" r="6.0"/><circle cx="989.0" cy="34.1" r="6.0"/><circle cx="990.0" cy="37.0" r="6.0"/><circle cx="990.9" cy="40.0" r="6.0"/><circle cx="991.9" cy="42.9" r="6.0"/><circle cx="992.8" cy="45.9" r="6.0"/><circle cx="993.4" cy="48.8" r="6.0"/><circle cx="994.0" cy="51.8" r="6.0"/><circle cx="994.6" cy="54.7" r="6.0"/><circle cx="995.2" cy="57.6" r="6.0"/><circle cx="995.7" cy="60.6" r="6.0"/><circle cx="996.3" cy="63.5" r="6.0"/><circle cx="997.0" cy="66.5" r="6.0"/><circle cx="998.0" cy="69.4" r="6.0"/><circle cx="999.0" cy="72.4" r="6.0"/><circle cx="1000.4" cy="75.3" r="6.0"/><circle cx="1003.0" cy="78.3" r="6.0"/><circle cx="1005.9" cy="81.2" r="6.0"/><circle cx="1008.9" cy="84.2" r="6.0"/><circle cx="1012.6" cy="87.1" r="6.0"/><circle cx="1016.2" cy="90.0" r="6.0"/><circle cx="1019.8" cy="93.0" r="6.0"/><circle cx="1023.5" cy="95.9" r="6.0"/><circle cx="1026.7" cy="98.9" r="6.0"/><circle cx="1029.7" cy="101.8" r="6.0"/><circle cx="1032.7" cy="104.8" r="6.0"/><circle cx="1034.5" cy="107.7" r="6.0"/><circle cx="1036.2" cy="110.7" r="6.0"/><circle cx="1037.9" cy="113.6" r="6.0"/><circle cx="1039.6" cy="116.5" r="6.0"/><circle cx="1041.3" cy="119.5" r="6.0"/><circle cx="1043.5" cy="122.4" r="6.0"/><circle cx="1046.1" cy="125.4" r="6.0"/><circle cx="1048.8" cy="128.3" r="6.0"/><circle cx="1052.2" cy="131.3" r="6.0"/><circle cx="1056.3" cy="134.2" r="6.0"/><circle cx="1060.4" cy="137.2" r="6.0"/><circle cx="1061.8" cy="140.1" r="6.0"/><circle cx="1063.4" cy="143.1" r="6.0"/><circle cx="1065.3" cy="146.0" r="6.0"/><circle cx="1067.3" cy="148.9" r="6.0"/><circle cx="1069.3" cy="151.9" r="6.0"/><circle cx="1071.2" cy="154.8" r="6.0"/><circle cx="1073.2" cy="157.8" r="6.0"/><circle cx="1075.5" cy="160.7" r="6.0"/><circle cx="1079.9" cy="163.7" r="6.0"/><circle cx="1084.5" cy="166.6" r="6.0"/><circle cx="1089.2" cy="169.6" r="6.0"/><circle cx="1095.1" cy="172.5" r="6.0"/><circle cx="1099.5" cy="175.4" r="6.0"/><circle cx="1102.9" cy="178.4" r="6.0"/><circle cx="1105.6" cy="181.3" r="6.0"/><circle cx="1107.9" cy="184.3" r="6.0"/><circle cx="1110.1" cy="187.2" r="6.0"/><circle cx="1111.7" cy="190.2" r="6.0"/><circle cx="1113.2" cy="193.1" r="6.0"/><circle cx="1114.7" cy="196.1" r="6.0"/><circle cx="1116.5" cy="199.0" r="6.0"/><circle cx="1118.3" cy="202.0" r="6.0"/><circle cx="1120.0" cy="204.9" r="6.0"/><circle cx="1121.3" cy="207.8" r="6.0"/><circle cx="1124.7" cy="210.8" r="6.0"/><circle cx="1128.3" cy="213.7" r="6.0"/><circle cx="1130.6" cy="216.7" r="6.0"/><circle cx="1131.8" cy="219.6" r="6.0"/><circle cx="1133.0" cy="222.6" r="6.0"/><circle cx="1134.2" cy="225.5" r="6.0"/><circle cx="1135.8" cy="228.5" r="6.0"/><circle cx="1137.9" cy="231.4" r="6.0"/><circle cx="1140.0" cy="234.3" r="6.0"/><circle cx="1142.1" cy="237.3" r="6.0"/><circle cx="1145.5" cy="240.2" r="6.0"/><circle cx="1147.6" cy="243.2" r="6.0"/><circle cx="1148.4" cy="246.1" r="6.0"/><circle cx="1149.1" cy="249.1" r="6.0"/><circle cx="1149.8" cy="252.0" r="6.0"/><circle cx="1150.9" cy="255.0" r="6.0"/><circle cx="1152.4" cy="257.9" r="6.0"/><circle cx="1153.8" cy="260.9" r="6.0"/><circle cx="1155.3" cy="263.8" r="6.0"/><circle cx="1156.7" cy="266.7" r="6.0"/><circle cx="1157.8" cy="269.7" r="6.0"/><circle cx="1158.9" cy="272.6" r="6.0"/><circle cx="1160.9" cy="275.6" r="6.0"/><circle cx="1163.1" cy="278.5" r="6.0"/><circle cx="1165.3" cy="281.5" r="6.0"/><circle cx="1167.2" cy="284.4" r="6.0"/><circle cx="1168.7" cy="287.4" r="6.0"/><circle cx="1170.1" cy="290.3" r="6.0"/><circle cx="1171.6" cy="293.2" r="6.0"/><circle cx="1173.1" cy="296.2" r="6.0"/><circle cx="1174.5" cy="299.1" r="6.0"/><circle cx="1176.0" cy="302.1" r="6.0"/><circle cx="1177.5" cy="305.0" r="6.0"/><circle cx="1179.0" cy="308.0" r="6.0"/><circle cx="1180.4" cy="310.9" r="6.0"/><circle cx="1181.9" cy="313.9" r="6.0"/><circle cx="1183.3" cy="316.8" r="6.0"/><circle cx="1184.3" cy="319.8" r="6.0"/><circle cx="1185.4" cy="322.7" r="6.0"/><circle cx="1186.4" cy="325.6" r="6.0"/><circle cx="1187.5" cy="328.6" r="6.0"/><circle cx="1188.8" cy="331.5" r="6.0"/><circle cx="1190.2" cy="334.5" r="6.0"/><circle cx="1191.7" cy="337.4" r="6.0"/><circle cx="1193.3" cy="340.4" r="6.0"/><circle cx="1194.8" cy="343.3" r="6.0"/><circle cx="1196.4" cy="346.3" r="6.0"/><circle cx="1198.0" cy="349.2" r="6.0"/><circle cx="1199.5" cy="352.1" r="6.0"/><circle cx="1201.1" cy="355.1" r="6.0"/><circle cx="1202.7" cy="358.0" r="6.0"/><circle cx="1204.2" cy="361.0" r="6.0"/><circle cx="1205.8" cy="363.9" r="6.0"/><circle cx="1207.4" cy="366.9" r="6.0"/><circle cx="1208.9" cy="369.8" r="6.0"/><circle cx="1210.5" cy="372.8" r="6.0"/><circle cx="1212.4" cy="375.7" r="6.0"/><circle cx="1214.2" cy="378.7" r="6.0"/><circle cx="1216.1" cy="381.6" r="6.0"/><circle cx="1217.8" cy="384.5" r="6.0"/><circle cx="1219.0" cy="387.5" r="6.0"/><circle cx="1220.3" cy="390.4" r="6.0"/><circle cx="1221.5" cy="393.4" r="6.0"/><circle cx="1222.8" cy="396.3" r="6.0"/><circle cx="1224.6" cy="399.3" r="6.0"/><circle cx="1226.3" cy="402.2" r="6.0"/><circle cx="1227.5" cy="405.2" r="6.0"/><circle cx="1228.5" cy="408.1" r="6.0"/><circle cx="1229.5" cy="411.0" r="6.0"/><circle cx="1230.5" cy="414.0" r="6.0"/><circle cx="1231.5" cy="416.9" r="6.0"/><circle cx="1232.8" cy="419.9" r="6.0"/><circle cx="1234.4" cy="422.8" r="6.0"/><circle cx="1236.0" cy="425.8" r="6.0"/><circle cx="1237.6" cy="428.7" r="6.0"/><circle cx="1239.2" cy="431.7" r="6.0"/><circle cx="1240.4" cy="434.6" r="6.0"/><circle cx="1241.5" cy="437.6" r="6.0"/><circle cx="1242.6" cy="440.5" r="6.0"/><circle cx="1243.7" cy="443.4" r="6.0"/><circle cx="1244.8" cy="446.4" r="6.0"/><circle cx="1246.0" cy="449.3" r="6.0"/><circle cx="1247.9" cy="452.3" r="6.0"/><circle cx="1249.8" cy="455.2" r="6.0"/><circle cx="1251.7" cy="458.2" r="6.0"/><circle cx="1253.1" cy="461.1" r="6.0"/><circle cx="1253.8" cy="464.1" r="6.0"/><circle cx="1254.4" cy="467.0" r="6.0"/><circle cx="1255.1" cy="469.9" r="6.0"/><circle cx="1256.1" cy="472.9" r="6.0"/><circle cx="1257.3" cy="475.8" r="6.0"/><circle cx="1258.4" cy="478.8" r="6.0"/><circle cx="1259.6" cy="481.7" r="6.0"/><circle cx="1260.8" cy="484.7" r="6.0"/><circle cx="1262.1" cy="487.6" r="6.0"/><circle cx="1263.4" cy="490.6" r="6.0"/><circle cx="1264.8" cy="493.5" r="6.0"/><circle cx="1266.2" cy="496.5" r="6.0"/><circle cx="1267.5" cy="499.4" r="6.0"/><circle cx="1268.8" cy="502.3" r="6.0"/><circle cx="1269.9" cy="505.3" r="6.0"/><circle cx="1271.0" cy="508.2" r="6.0"/><circle cx="1272.2" cy="511.2" r="6.0"/><circle cx="1273.3" cy="514.1" r="6.0"/><circle cx="1274.0" cy="517.1" r="6.0"/><circle cx="1274.7" cy="520.0" r="6.0"/><circle cx="1275.5" cy="523.0" r="6.0"/><circle cx="1276.2" cy="525.9" r="6.0"/><circle cx="1277.1" cy="528.8" r="6.0"/><circle cx="1278.0" cy="531.8" r="6.0"/><circle cx="1278.9" cy="534.7" r="6.0"/><circle cx="1280.0" cy="537.7" r="6.0"/><circle cx="1281.4" cy="540.6" r="6.0"/><circle cx="1282.7" cy="543.6" r="6.0"/><circle cx="1283.7" cy="546.5" r="6.0"/><circle cx="1284.3" cy="549.5" r="6.0"/><circle cx="1284.9" cy="552.4" r="6.0"/><circle cx="1285.4" cy="555.4" r="6.0"/><circle cx="1286.0" cy="558.3" r="6.0"/><circle cx="1286.7" cy="561.2" r="6.0"/><circle cx="1287.7" cy="564.2" r="6.0"/><circle cx="1288.7" cy="567.1" r="6.0"/><circle cx="1289.7" cy="570.1" r="6.0"/><circle cx="1290.7" cy="573.0" r="6.0"/><circle cx="1291.7" cy="576.0" r="6.0"/><circle cx="1292.6" cy="578.9" r="6.0"/><circle cx="1293.6" cy="581.9" r="6.0"/><circle cx="1294.6" cy="584.8" r="6.0"/><circle cx="1295.6" cy="587.8" r="6.0"/><circle cx="1296.6" cy="590.7" r="6.0"/><circle cx="1297.7" cy="593.6" r="6.0"/><circle cx="1298.9" cy="596.6" r="6.0"/><circle cx="1300.1" cy="599.5" r="6.0"/><circle cx="1301.3" cy="602.5" r="6.0"/><circle cx="1302.5" cy="605.4" r="6.0"/><circle cx="1303.4" cy="608.4" r="6.0"/></g>
<polyline points="992.9,21.5 993.6,24.4 994.5,27.4 995.4,30.3 996.3,33.3 997.1,36.2 998.0,39.2 999.4,43.6 1001.4,51.0 1003.0,58.3 1003.6,65.7 1006.0,73.0 1009.0,80.4 1013.0,87.8 1017.6,95.1 1033.9,109.8 1054.7,124.6 1080.5,139.3 1096.3,154.0 1105.5,168.8 1128.7,205.6 1148.5,242.4 1190.5,316.0 1221.3,389.6 1252.4,463.2 1278.0,536.9 1302.7,610.5" fill="none" stroke="#008000" stroke-width="2.60" stroke-linejoin="round" stroke-linecap="butt"/><g fill="#008000"><circle cx="992.9" cy="21.5" r="6.0"/><circle cx="993.6" cy="24.4" r="6.0"/><circle cx="994.5" cy="27.4" r="6.0"/><circle cx="995.4" cy="30.3" r="6.0"/><circle cx="996.3" cy="33.3" r="6.0"/><circle cx="997.1" cy="36.2" r="6.0"/><circle cx="998.0" cy="39.2" r="6.0"/><circle cx="999.4" cy="43.6" r="6.0"/><circle cx="1001.4" cy="51.0" r="6.0"/><circle cx="1003.0" cy="58.3" r="6.0"/><circle cx="1003.6" cy="65.7" r="6.0"/><circle cx="1006.0" cy="73.0" r="6.0"/><circle cx="1009.0" cy="80.4" r="6.0"/><circle cx="1013.0" cy="87.8" r="6.0"/><circle cx="1017.6" cy="95.1" r="6.0"/><circle cx="1033.9" cy="109.8" r="6.0"/><circle cx="1054.7" cy="124.6" r="6.0"/><circle cx="1080.5" cy="139.3" r="6.0"/><circle cx="1096.3" cy="154.0" r="6.0"/><circle cx="1105.5" cy="168.8" r="6.0"/><circle cx="1128.7" cy="205.6" r="6.0"/><circle cx="1148.5" cy="242.4" r="6.0"/><circle cx="1190.5" cy="316.0" r="6.0"/><circle cx="1221.3" cy="389.6" r="6.0"/><circle cx="1252.4" cy="463.2" r="6.0"/><circle cx="1278.0" cy="536.9" r="6.0"/><circle cx="1302.7" cy="610.5" r="6.0"/></g>
<polyline points="993.7,21.5 994.4,24.4 995.3,27.4 996.2,30.3 997.1,33.3 998.0,36.2 998.9,39.2 1000.2,43.6 1002.2,51.0 1004.0,58.3 1005.9,65.7 1013.0,73.0 1018.5,80.4 1027.6,87.8 1036.4,95.1 1047.6,109.8 1061.3,124.6 1077.3,139.3 1093.7,154.0 1107.4,168.8 1136.0,205.6 1158.6,242.4 1196.6,316.0 1228.0,389.6 1257.9,463.2 1283.9,536.9 1307.3,610.5" fill="none" stroke="#ff0000" stroke-width="2.60" stroke-linejoin="round" stroke-linecap="butt"/><g fill="#ff0000"><circle cx="993.7" cy="21.5" r="6.0"/><circle cx="994.4" cy="24.4" r="6.0"/><circle cx="995.3" cy="27.4" r="6.0"/><circle cx="996.2" cy="30.3" r="6.0"/><circle cx="997.1" cy="33.3" r="6.0"/><circle cx="998.0" cy="36.2" r="6.0"/><circle cx="998.9" cy="39.2" r="6.0"/><circle cx="1000.2" cy="43.6" r="6.0"/><circle cx="1002.2" cy="51.0" r="6.0"/><circle cx="1004.0" cy="58.3" r="6.0"/><circle cx="1005.9" cy="65.7" r="6.0"/><circle cx="1013.0" cy="73.0" r="6.0"/><circle cx="1018.5" cy="80.4" r="6.0"/><circle cx="1027.6" cy="87.8" r="6.0"/><circle cx="1036.4" cy="95.1" r="6.0"/><circle cx="1047.6" cy="109.8" r="6.0"/><circle cx="1061.3" cy="124.6" r="6.0"/><circle cx="1077.3" cy="139.3" r="6.0"/><circle cx="1093.7" cy="154.0" r="6.0"/><circle cx="1107.4" cy="168.8" r="6.0"/><circle cx="1136.0" cy="205.6" r="6.0"/><circle cx="1158.6" cy="242.4" r="6.0"/><circle cx="1196.6" cy="316.0" r="6.0"/><circle cx="1228.0" cy="389.6" r="6.0"/><circle cx="1257.9" cy="463.2" r="6.0"/><circle cx="1283.9" cy="536.9" r="6.0"/><circle cx="1307.3" cy="610.5" r="6.0"/></g>
<polyline points="996.8,22.2 997.1,23.8 997.4,25.4 997.8,27.1 998.1,29.0 998.5,31.0 998.9,33.2 999.4,35.6 999.9,38.3 1000.5,41.3 1001.2,44.8 1001.9,48.7 1002.6,53.3 1003.4,58.6 1004.3,64.9 1005.6,72.2 1007.5,80.9 1014.6,91.3 1032.4,103.6 1053.4,118.4 1075.6,136.1 1096.8,157.4 1117.6,183.1 1136.8,213.9 1157.6,251.0 1180.5,295.6 1205.6,349.1 1232.5,413.2 1262.5,489.9 1295.6,581.4" fill="none" stroke="#ff00ff" stroke-width="2.60" stroke-linejoin="round" stroke-linecap="butt"/><g fill="#ff00ff"><circle cx="996.8" cy="22.2" r="6.0"/><circle cx="997.1" cy="23.8" r="6.0"/><circle cx="997.4" cy="25.4" r="6.0"/><circle cx="997.8" cy="27.1" r="6.0"/><circle cx="998.1" cy="29.0" r="6.0"/><circle cx="998.5" cy="31.0" r="6.0"/><circle cx="998.9" cy="33.2" r="6.0"/><circle cx="999.4" cy="35.6" r="6.0"/><circle cx="999.9" cy="38.3" r="6.0"/><circle cx="1000.5" cy="41.3" r="6.0"/><circle cx="1001.2" cy="44.8" r="6.0"/><circle cx="1001.9" cy="48.7" r="6.0"/><circle cx="1002.6" cy="53.3" r="6.0"/><circle cx="1003.4" cy="58.6" r="6.0"/><circle cx="1004.3" cy="64.9" r="6.0"/><circle cx="1005.6" cy="72.2" r="6.0"/><circle cx="1007.5" cy="80.9" r="6.0"/><circle cx="1014.6" cy="91.3" r="6.0"/><circle cx="1032.4" cy="103.6" r="6.0"/><circle cx="1053.4" cy="118.4" r="6.0"/><circle cx="1075.6" cy="136.1" r="6.0"/><circle cx="1096.8" cy="157.4" r="6.0"/><circle cx="1117.6" cy="183.1" r="6.0"/><circle cx="1136.8" cy="213.9" r="6.0"/><circle cx="1157.6" cy="251.0" r="6.0"/><circle cx="1180.5" cy="295.6" r="6.0"/><circle cx="1205.6" cy="349.1" r="6.0"/><circle cx="1232.5" cy="413.2" r="6.0"/><circle cx="1262.5" cy="489.9" r="6.0"/><circle cx="1295.6" cy="581.4" r="6.0"/></g>
</g>
<path class="tick" d="M1057.50 610.50v6.05M1176.50 610.50v6.05M1296.50 610.50v6.05M958.50 21.50h-6.05M958.50 95.50h-6.05M958.50 168.50h-6.05M958.50 242.50h-6.05M958.50 315.50h-6.05M958.50 389.50h-6.05M958.50 463.50h-6.05M958.50 536.50h-6.05M958.50 610.50h-6.05"/>
<rect class="sp" x="958.50" y="21.50" width="379.00" height="589.00"/>
<text class="tk" x="1057.00" y="639.8" text-anchor="middle">1024</text>
<text class="tk" x="1176.00" y="639.8" text-anchor="middle">1026</text>
<text class="tk" x="1296.00" y="639.8" text-anchor="middle">1028</text>
<text class="lb" x="1146.20" y="670.50" text-anchor="middle">Density</text>
<text class="lb" transform="translate(30.0,316.00) rotate(-90)" text-anchor="middle">Depth (m)</text>
<text class="ft" x="375.5" y="695.5" xml:space="preserve">Ocean Heat Content (kJ/cm^2) - Argo: N/A,  RTOFS: 13.1840,  ESPC: 9.8133,  CMEMS: 14.9393,  </text>
<text class="tt" x="1458.3" y="41.20">Argo #5907155</text>
<text class="tt" x="1458.3" y="71.20">ARGO: 2025-10-03T10:48Z</text>
<text class="tt" x="1458.3" y="101.20">ESPC : 2025-10-03T12:00Z</text>
<text class="tt" x="1458.3" y="131.20">RTOFS: 2025-10-03T12:00Z</text>
<text class="tt" x="1458.3" y="161.20">CMEMS: 2025-10-03T12:00Z</text>
<rect x="1483.80" y="199.60" width="376.80" height="232.50" fill="#97b6e1"/>
<g fill="#d2b48c" stroke="#000" stroke-width="2.2" stroke-linejoin="round"><polygon points="1627.86,294.22 1630.21,295.23 1633.42,297.18 1636.63,298.99 1638.02,301.28 1639.47,303.11 1640.95,304.51 1639.49,305.90 1636.62,307.23 1633.85,308.55 1632.05,309.97 1631.13,311.64 1629.27,311.95 1627.43,310.52 1627.01,308.61 1627.58,306.23 1626.70,304.01 1625.71,302.21 1625.00,300.82 1626.57,299.01 1627.44,296.65 1627.12,294.89"/><polygon points="1618.25,284.70 1619.65,284.99 1620.57,285.82 1622.46,285.01 1624.74,285.73 1626.00,287.31 1624.78,288.61 1622.50,288.91 1621.02,289.32 1619.91,288.43 1619.52,287.07 1618.34,286.44 1617.72,285.39"/><polygon points="1609.00,281.34 1611.37,280.97 1613.51,281.17 1616.37,281.51 1616.18,282.55 1613.48,282.39 1611.39,282.58 1609.29,282.37"/><polygon points="1612.50,285.94 1613.69,285.65 1614.40,286.59 1613.68,287.51 1612.78,287.32 1612.25,286.59"/><polygon points="1616.80,290.08 1617.74,289.92 1618.13,290.47 1617.40,290.80 1616.73,290.70"/><polygon points="1595.91,276.30 1598.49,275.57 1600.13,274.10 1601.25,275.59 1602.11,277.21 1604.09,278.58 1603.65,279.73 1601.39,280.23 1598.91,279.55 1597.67,278.34 1596.32,277.35"/><polygon points="1576.84,268.78 1578.31,267.12 1580.39,266.81 1582.53,267.59 1582.93,269.28 1582.05,270.94 1580.39,271.93 1578.59,271.41 1577.22,270.29"/><polygon points="1570.93,271.67 1571.78,270.36 1572.71,270.06 1572.34,271.20 1571.51,272.51 1570.73,272.79"/></g>
<g fill="#5a6b85"><circle cx="1492.6" cy="244.6" r="1.2"/><circle cx="1493.4" cy="246.2" r="0.9"/><circle cx="1512.2" cy="247.8" r="0.9"/><circle cx="1548.5" cy="255.3" r="0.9"/><circle cx="1566.4" cy="274.8" r="0.8"/></g>
<circle cx="1598.77" cy="227.30" r="6.1" fill="#0000ff"/>
<rect x="1483.80" y="199.60" width="376.80" height="232.50" fill="none" stroke="#000" stroke-width="1.33"/>
<path d="M1509.79 199.60v-8.9M1509.79 432.10v8.9M1548.77 199.60v-8.9M1548.77 432.10v8.9M1587.74 199.60v-8.9M1587.74 432.10v8.9M1626.72 199.60v-8.9M1626.72 432.10v8.9M1665.70 199.60v-8.9M1665.70 432.10v8.9M1704.68 199.60v-8.9M1704.68 432.10v8.9M1743.66 199.60v-8.9M1743.66 432.10v8.9M1782.64 199.60v-8.9M1782.64 432.10v8.9M1821.62 199.60v-8.9M1821.62 432.10v8.9M1860.60 199.60v-8.9M1860.60 432.10v8.9M1483.80 406.00h-8.9M1860.60 406.00h8.9M1483.80 366.07h-8.9M1860.60 366.07h8.9M1483.80 325.56h-8.9M1860.60 325.56h8.9M1483.80 284.36h-8.9M1860.60 284.36h8.9M1483.80 242.33h-8.9M1860.60 242.33h8.9M1483.80 199.60h-8.9M1860.60 199.60h8.9" stroke="#000" stroke-width="2.85" fill="none"/>
<path d="M1483.80 199.60v-3.4M1483.80 432.10v3.4M1496.79 199.60v-3.4M1496.79 432.10v3.4M1522.78 199.60v-3.4M1522.78 432.10v3.4M1535.77 199.60v-3.4M1535.77 432.10v3.4M1561.76 199.60v-3.4M1561.76 432.10v3.4M1574.75 199.60v-3.4M1574.75 432.10v3.4M1600.74 199.60v-3.4M1600.74 432.10v3.4M1613.73 199.60v-3.4M1613.73 432.10v3.4M1639.72 199.60v-3.4M1639.72 432.10v3.4M1652.71 199.60v-3.4M1652.71 432.10v3.4M1678.70 199.60v-3.4M1678.70 432.10v3.4M1691.69 199.60v-3.4M1691.69 432.10v3.4M1717.68 199.60v-3.4M1717.68 432.10v3.4M1730.67 199.60v-3.4M1730.67 432.10v3.4M1756.66 199.60v-3.4M1756.66 432.10v3.4M1769.65 199.60v-3.4M1769.65 432.10v3.4M1795.63 199.60v-3.4M1795.63 432.10v3.4M1808.63 199.60v-3.4M1808.63 432.10v3.4M1834.61 199.60v-3.4M1834.61 432.10v3.4M1847.61 199.60v-3.4M1847.61 432.10v3.4M1483.80 432.10h-3.5M1860.60 432.10h2.4M1483.80 419.21h-3.5M1860.60 419.21h2.4M1483.80 392.75h-3.5M1860.60 392.75h2.4M1483.80 379.44h-3.5M1860.60 379.44h2.4M1483.80 352.63h-3.5M1860.60 352.63h2.4M1483.80 339.13h-3.5M1860.60 339.13h2.4M1483.80 311.91h-3.5M1860.60 311.91h2.4M1483.80 298.18h-3.5M1860.60 298.18h2.4M1483.80 270.45h-3.5M1860.60 270.45h2.4M1483.80 256.44h-3.5M1860.60 256.44h2.4M1483.80 228.10h-3.5M1860.60 228.10h2.4M1483.80 213.76h-3.5M1860.60 213.76h2.4" stroke="#000" stroke-width="1.6" fill="none"/>
<text class="mp" x="1509.79" y="458.0" text-anchor="middle">165°W</text>
<text class="mp" x="1548.77" y="458.0" text-anchor="middle">162°W</text>
<text class="mp" x="1587.74" y="458.0" text-anchor="middle">159°W</text>
<text class="mp" x="1626.72" y="458.0" text-anchor="middle">156°W</text>
<text class="mp" x="1665.70" y="458.0" text-anchor="middle">153°W</text>
<text class="mp" x="1704.68" y="458.0" text-anchor="middle">150°W</text>
<text class="mp" x="1743.66" y="458.0" text-anchor="middle">147°W</text>
<text class="mp" x="1782.64" y="458.0" text-anchor="middle">144°W</text>
<text class="mp" x="1821.62" y="458.0" text-anchor="middle">141°W</text>
<text class="mp" x="1860.60" y="458.0" text-anchor="middle">138°W</text>
<text class="mp" x="1467.9" y="410.90" text-anchor="end">12°N</text>
<text class="mp" x="1467.9" y="370.97" text-anchor="end">15°N</text>
<text class="mp" x="1467.9" y="330.46" text-anchor="end">18°N</text>
<text class="mp" x="1467.9" y="289.26" text-anchor="end">21°N</text>
<text class="mp" x="1467.9" y="247.23" text-anchor="end">24°N</text>
<text class="mp" x="1467.9" y="204.50" text-anchor="end">27°N</text>
<rect x="1498.8" y="487.9" width="344.5" height="127.0" rx="4" ry="4" fill="#fff" fill-opacity="0.8" stroke="#cccccc" stroke-width="1.33"/>
<path d="M1507.3 505.20H1551" stroke="#0000ff" stroke-width="2.5"/><circle cx="1528.7" cy="505.20" r="6" fill="#0000ff"/>
<text class="lg" x="1565.8" y="512.20">5907155 [-158.09, 25.07]</text>
<path d="M1507.3 535.50H1551" stroke="#008000" stroke-width="2.5"/><circle cx="1528.7" cy="535.50" r="6" fill="#008000"/>
<text class="lg" x="1565.8" y="542.50">ESPC [-158.08, 25.08]</text>
<path d="M1507.3 565.80H1551" stroke="#ff0000" stroke-width="2.5"/><circle cx="1528.7" cy="565.80" r="6" fill="#ff0000"/>
<text class="lg" x="1565.8" y="572.80">RTOFS [-157.92, 25.08]</text>
<path d="M1507.3 596.10H1551" stroke="#ff00ff" stroke-width="2.5"/><circle cx="1528.7" cy="596.10" r="6" fill="#ff00ff"/>
<text class="lg" x="1565.8" y="603.10">CMEMS [-158.08, 25.08]</text>
</svg></body></html>
